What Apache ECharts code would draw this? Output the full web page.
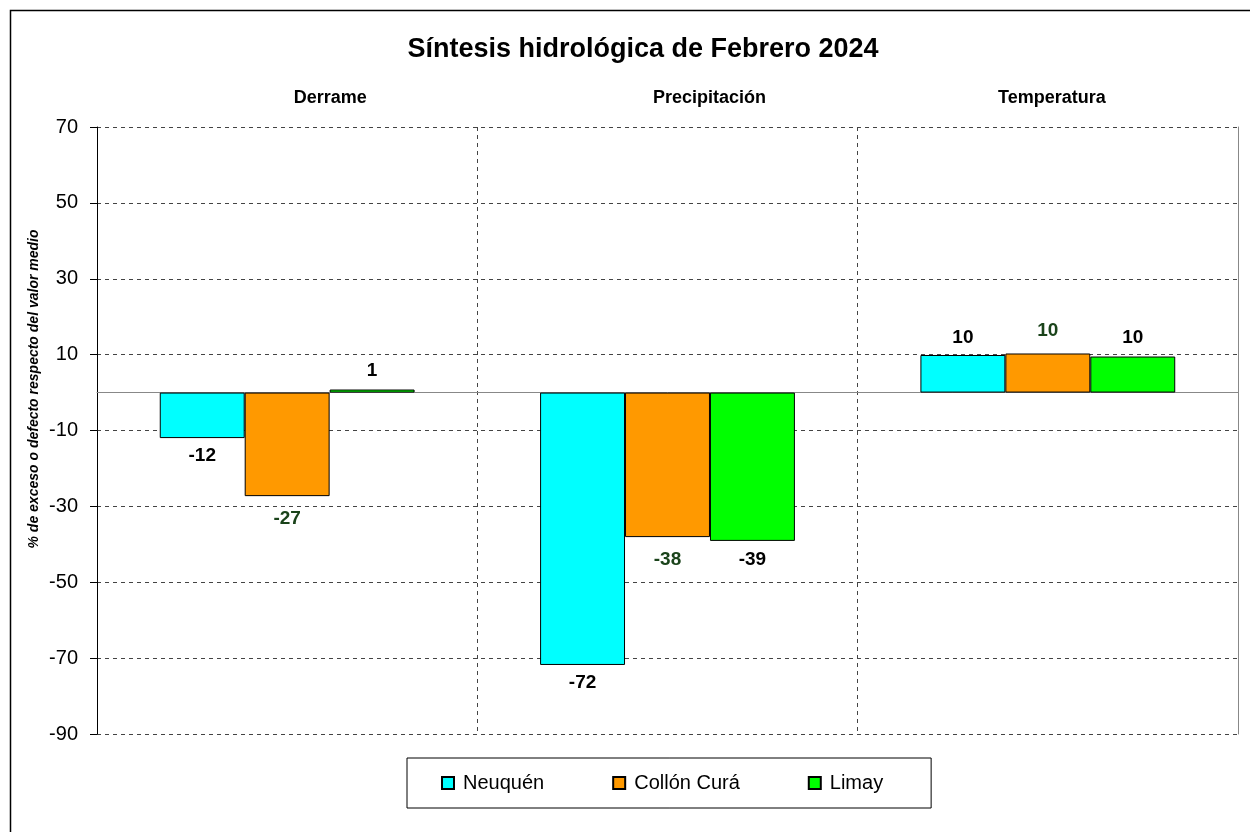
<!DOCTYPE html>
<html>
<head>
<meta charset="utf-8">
<script src="https://cdn.jsdelivr.net/npm/echarts@6/dist/echarts.min.js"></script>
<style>html,body{margin:0;padding:0;background:#fff;}#c{width:1250px;height:832px;}</style>
</head>
<body>
<div id="c"></div>
<script>
const categories = ['Derrame', 'Precipitación', 'Temperatura'];
const seriesNames = ['Neuquén', 'Collón Curá', 'Limay'];
const neuquen = [-12.0, -71.8, 9.9];
const collonCura = [-27.3, -38.1, 10.3];
const limay = [0.8, -39.1, 9.5];
const yTicks = [70, 50, 30, 10, -10, -30, -50, -70, -90];

const FONT = 'Liberation Sans';
const colors = ['#00FFFF', '#FF9900', '#00FF00'];
const labelColors = ['#000000', '#1a431a', '#000000'];
const labelDist = [8, 13, 9];
const catShift = [86, 84, 8];

function makeSeries(name, vals, i) {
  return {
    name: name,
    type: 'bar',
    xAxisIndex: 0,
    yAxisIndex: 0,
    barGap: '0%',
    barCategoryGap: '33%',
    itemStyle: { color: colors[i], borderColor: '#000', borderWidth: 1 },
    label: {
      show: true,
      distance: labelDist[i],
      color: labelColors[i],
      fontFamily: FONT,
      fontWeight: 'bold',
      fontSize: 19,
      formatter: p => String(Math.round(p.value))
    },
    data: vals.map(v => ({ value: v, label: { position: v < 0 ? 'bottom' : 'top' } }))
  };
}

const chart = echarts.init(document.getElementById('c'), null, { renderer: 'canvas' });
chart.setOption({
  backgroundColor: '#fff',
  animation: false,
  textStyle: { fontFamily: FONT, color: '#000' },
  title: {
    text: 'Síntesis hidrológica de Febrero 2024',
    left: 638, top: 31, textAlign: 'center',
    textStyle: { fontFamily: FONT, fontWeight: 'bold', fontSize: 27, color: '#000' }
  },
  grid: { left: 97, right: 12, top: 127, bottom: 98, containLabel: false },
  legend: {
    data: seriesNames,
    left: 407, top: 758,
    orient: 'horizontal',
    padding: [15, 48, 15, 34],
    itemGap: 68,
    itemWidth: 12, itemHeight: 12,
    icon: 'rect',
    borderColor: '#000', borderWidth: 1,
    textStyle: { fontFamily: FONT, fontSize: 20, color: '#000', padding: [0, 0, 0, 4] }
  },
  xAxis: [
    {
      type: 'category', position: 'top',
      data: categories.map((c, i) => ({ value: c, textStyle: { padding: [0, 0, 0, catShift[i]] } })),
      axisLine: { show: false, onZero: false },
      axisTick: { show: false },
      axisLabel: { fontFamily: FONT, fontWeight: 'bold', fontSize: 18, color: '#000', margin: 20 },
      splitLine: { show: true, lineStyle: { color: '#444', type: [4, 4], width: 1 } }
    },
    {
      type: 'category', position: 'bottom',
      data: categories,
      axisLine: { show: true, onZero: true, lineStyle: { color: '#888', width: 1 } },
      axisTick: { show: false },
      axisLabel: { show: false },
      splitLine: { show: false }
    }
  ],
  yAxis: [
    {
      type: 'value', min: -90, max: 70,
      axisLine: { show: true, lineStyle: { color: '#000', width: 1 } },
      axisTick: { show: true, customValues: yTicks, length: 7, lineStyle: { color: '#000' } },
      axisLabel: { customValues: yTicks, fontFamily: FONT, fontSize: 20, color: '#000', margin: 19 },
      splitLine: { show: true, lineStyle: { color: '#444', type: [4, 4], width: 1 } }
    },
    {
      type: 'value', min: -90, max: 70, position: 'right',
      axisLine: { show: true, lineStyle: { color: '#888', width: 1 } },
      axisTick: { show: false },
      axisLabel: { show: false },
      splitLine: { show: false }
    }
  ],
  series: [
    makeSeries(seriesNames[0], neuquen, 0),
    makeSeries(seriesNames[1], collonCura, 1),
    makeSeries(seriesNames[2], limay, 2)
  ],
  graphic: [
    {
      type: 'rect', silent: true,
      shape: { x: 10.5, y: 10.5, width: 1270, height: 860 },
      style: { fill: null, stroke: '#000', lineWidth: 1.5 }
    },
    {
      type: 'text', x: 34, y: 389, rotation: Math.PI / 2,
      style: {
        text: '% de exceso o defecto respecto del valor medio',
        font: 'italic bold 14px "Liberation Sans"',
        fill: '#000', align: 'center', verticalAlign: 'middle'
      }
    }
  ]
});
</script>
</body>
</html>
